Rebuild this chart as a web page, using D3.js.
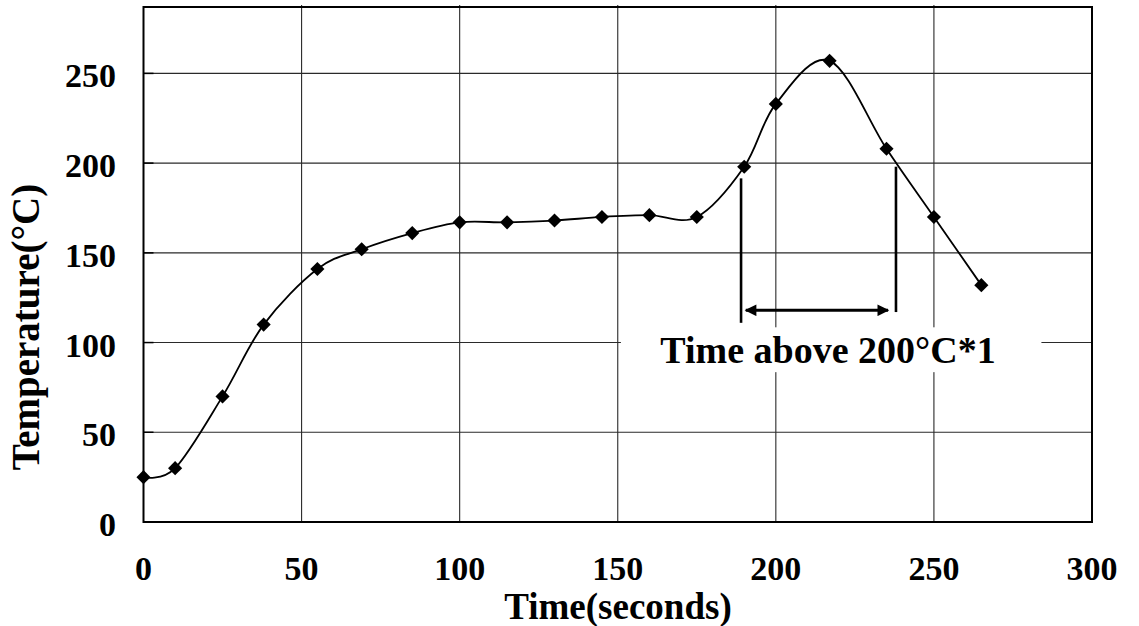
<!DOCTYPE html>
<html>
<head>
<meta charset="utf-8">
<script src="https://cdn.jsdelivr.net/npm/d3@7/dist/d3.min.js"></script>
<style>
  html, body { margin: 0; padding: 0; background: #fff; }
  svg { display: block; }
  text { font-family: "Liberation Serif", "Times New Roman", serif; font-weight: bold; fill: #000; }
</style>
</head>
<body>
<svg id="chart" width="1139" height="626"></svg>
<script>
// ---- data ----
const times = [0, 10, 25, 38, 55, 69, 85, 100, 115, 130, 145, 160, 175, 190, 200, 217, 235, 250, 265];
const temps = [25, 30, 70, 110, 141, 152, 161, 167, 167, 168, 170, 171, 170, 198, 233, 257, 208, 170, 132];
const xTicks = [0, 50, 100, 150, 200, 250, 300];
const yTicks = [0, 50, 100, 150, 200, 250];
const xTitle = "Time(seconds)";
const yTitle = "Temperature(°C)";
const noteText = "Time above 200°C*1";
// annotation in data units (seconds / °C)
const noteStart = [189, 111, 191.5];   // t, temp bottom, temp top
const noteEnd = [238, 117, 198];
const arrowSpan = [190.5, 235.5, 118];
const noteBox = [151, 284, 83.5, 108.5];
const noteAnchor = [216.5, 88.6];

// ---- layout ----
const svg = d3.select("#chart");
const x = d3.scaleLinear().domain([0, 300]).range([143.5, 1092]);
const y = d3.scaleLinear().domain([0, 287]).range([522, 7]);
const [x0, x1] = x.range();
const [y0, y1] = y.range();

// gridlines
const grid = svg.append("g").attr("stroke", "#2a2a2a").attr("stroke-width", 1.1);
grid.selectAll("line.h").data(yTicks.filter(d => d > 0)).join("line")
  .attr("x1", x0).attr("x2", x1)
  .attr("y1", d => y(d)).attr("y2", d => y(d));
grid.selectAll("line.v").data(xTicks.filter(d => d > 0 && d < 300)).join("line")
  .attr("y1", y0).attr("y2", y1 - 2)
  .attr("x1", d => x(d)).attr("x2", d => x(d));

// left-axis inner ticks
svg.append("g").selectAll("line").data(yTicks.filter(d => d > 0)).join("line")
  .attr("x1", x0).attr("x2", x0 + 10)
  .attr("y1", d => y(d)).attr("y2", d => y(d))
  .attr("stroke", "#000").attr("stroke-width", 1.5);

// label box (white background covering grid)
svg.append("rect")
  .attr("x", x(noteBox[0])).attr("width", x(noteBox[1]) - x(noteBox[0]))
  .attr("y", y(noteBox[3])).attr("height", y(noteBox[2]) - y(noteBox[3]))
  .attr("fill", "#fff");

// frame
svg.append("rect")
  .attr("x", x0).attr("y", y1).attr("width", x1 - x0).attr("height", y0 - y1)
  .attr("fill", "none").attr("stroke", "#000").attr("stroke-width", 2);

// axis tick labels
svg.append("g").selectAll("text").data(xTicks).join("text")
  .attr("x", d => x(d)).attr("y", 580)
  .attr("text-anchor", "middle").attr("font-size", 34)
  .text(d => d);
svg.append("g").selectAll("text").data(yTicks).join("text")
  .attr("x", 116).attr("y", d => y(d) + 14)
  .attr("text-anchor", "end").attr("font-size", 34)
  .text(d => d);

// axis titles
svg.append("text").attr("x", 618).attr("y", 619)
  .attr("text-anchor", "middle").attr("font-size", 37).text(xTitle);
svg.append("text").attr("transform", "translate(39,327) rotate(-90)")
  .attr("text-anchor", "middle").attr("font-size", 39).text(yTitle);

// curve
const pts = times.map((t, i) => [t, temps[i]]);
svg.append("path").datum(pts)
  .attr("fill", "none").attr("stroke", "#000").attr("stroke-width", 1.8)
  .attr("d", d3.line().x(d => x(d[0])).y(d => y(d[1])).curve(d3.curveCatmullRom.alpha(0)));

// markers
const diamond = d3.symbol().type(d3.symbolSquare).size(100);
svg.append("g").selectAll("path").data(pts).join("path")
  .attr("d", diamond)
  .attr("transform", d => `translate(${x(d[0])},${y(d[1])}) rotate(45)`)
  .attr("fill", "#000");

// annotation lines
const ann = svg.append("g").attr("stroke", "#000").attr("stroke-width", 2.6);
ann.append("line").attr("x1", x(noteStart[0])).attr("x2", x(noteStart[0]))
  .attr("y1", y(noteStart[1])).attr("y2", y(noteStart[2]));
ann.append("line").attr("x1", x(noteEnd[0])).attr("x2", x(noteEnd[0]))
  .attr("y1", y(noteEnd[1])).attr("y2", y(noteEnd[2]));

// double arrow
const defs = svg.append("defs");
defs.append("marker").attr("id", "ah").attr("viewBox", "0 0 10 10")
  .attr("refX", 9).attr("refY", 5).attr("markerWidth", 4.6).attr("markerHeight", 4.2)
  .attr("orient", "auto-start-reverse").attr("markerUnits", "strokeWidth")
  .append("path").attr("d", "M0,0L10,5L0,10z").attr("fill", "#000");
svg.append("line")
  .attr("x1", x(arrowSpan[0])).attr("x2", x(arrowSpan[1]))
  .attr("y1", y(arrowSpan[2])).attr("y2", y(arrowSpan[2]))
  .attr("stroke", "#000").attr("stroke-width", 2.8)
  .attr("marker-start", "url(#ah)").attr("marker-end", "url(#ah)");

// annotation text
svg.append("text").attr("x", x(noteAnchor[0])).attr("y", y(noteAnchor[1]))
  .attr("text-anchor", "middle").attr("font-size", 38).text(noteText);
</script>
</body>
</html>
